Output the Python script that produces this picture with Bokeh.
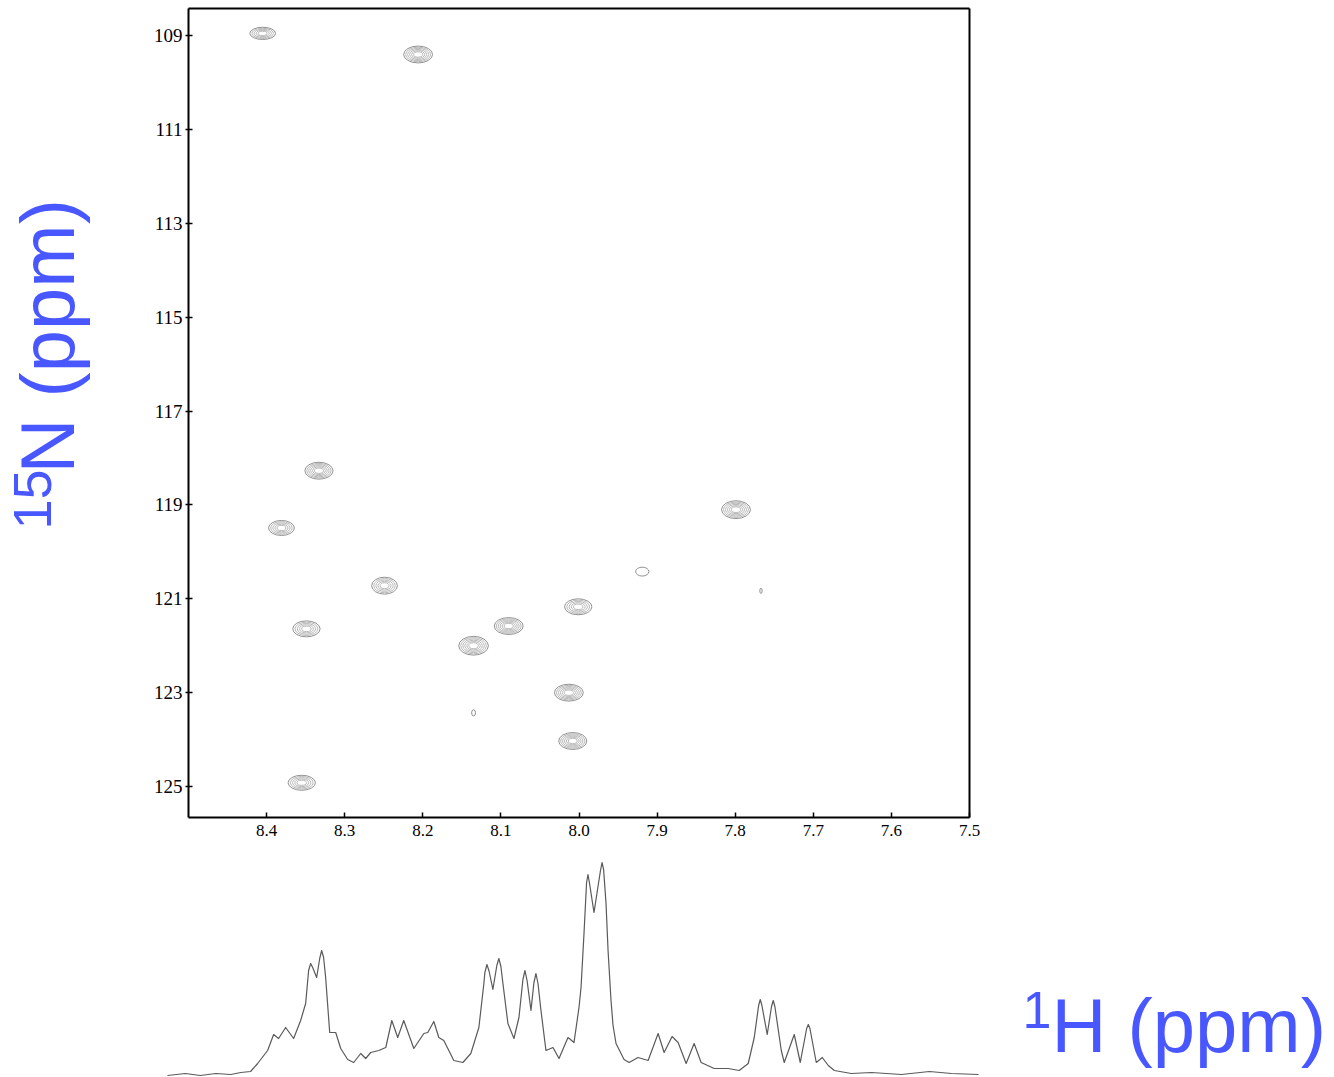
import math
from bokeh.plotting import figure
from bokeh.models import (Range1d, FixedTicker, PrintfTickFormatter, Label,
                          ColumnDataSource, LinearAxis)
from bokeh.embed import file_html
from bokeh.resources import INLINE

# ---- 2D 1H-15N HSQC peaks ----
peak_h = [8.405, 8.206, 8.333, 8.381, 7.799, 7.919, 8.249, 7.767,
          8.001, 8.349, 8.090, 8.135, 8.135, 8.013, 8.008, 8.355]
peak_n = [108.95, 109.40, 118.27, 119.49, 119.10, 120.42, 120.72, 120.83,
          121.17, 121.64, 121.58, 122.00, 123.43, 123.00, 124.03, 124.92]
peak_lw_h = [0.033, 0.037, 0.036, 0.033, 0.037, 0.017, 0.033, 0.003,
             0.035, 0.035, 0.037, 0.038, 0.005, 0.037, 0.036, 0.035]
peak_lw_n = [0.26, 0.36, 0.36, 0.32, 0.38, 0.19, 0.36, 0.11,
             0.34, 0.34, 0.36, 0.40, 0.13, 0.36, 0.36, 0.32]
peak_levels = [5, 6, 6, 5, 6, 1, 5, 1, 5, 5, 6, 6, 1, 6, 6, 5]

x_ticks = [8.4, 8.3, 8.2, 8.1, 8.0, 7.9, 7.8, 7.7, 7.6, 7.5]
y_ticks = [109, 111, 113, 115, 117, 119, 121, 123, 125]
h_limits = (7.5, 8.5)          # 1H window of the 2D box
n_limits = (108.42, 125.66)    # 15N window of the 2D box

# ---- 1D 1H projection spectrum (ppm, intensity) ----
spec_ppm = [8.527, 8.504, 8.485, 8.465, 8.446, 8.433, 8.4205, 8.4115, 8.3987, 8.391,
            8.3846, 8.3756, 8.3654, 8.3564, 8.350, 8.3462, 8.3436, 8.3410, 8.3359, 8.3320,
            8.3295, 8.3270, 8.3244, 8.3192, 8.3115, 8.3051, 8.2962, 8.2885, 8.2795, 8.2731,
            8.2667, 8.2564, 8.2474, 8.2397, 8.2321, 8.2244, 8.2115, 8.1987, 8.1936, 8.1859,
            8.1795, 8.1731, 8.1603, 8.1487, 8.1385, 8.1282, 8.1218, 8.1205, 8.1179, 8.1150,
            8.1103, 8.1052, 8.1026, 8.1000, 8.0974, 8.0910, 8.0833, 8.0769, 8.0718, 8.0692,
            8.0665, 8.0615, 8.0577, 8.0551, 8.0525, 8.0487, 8.0423, 8.0333, 8.0256, 8.0141,
            8.0064, 8.0000, 7.9974, 7.9936, 7.9903, 7.9885, 7.9865, 7.9808, 7.9725, 7.9705,
            7.9685, 7.9654, 7.9628, 7.9590, 7.9564, 7.9526, 7.9423, 7.9359, 7.9244, 7.9115,
            7.8987, 7.8910, 7.8808, 7.8731, 7.8628, 7.8526, 7.8436, 7.8269, 7.8090, 7.7949,
            7.7833, 7.7756, 7.7700, 7.7679, 7.7658, 7.7590, 7.7535, 7.7513, 7.7492, 7.7410,
            7.7372, 7.7244, 7.7167, 7.7085, 7.7064, 7.7043, 7.6962, 7.6885, 7.6808, 7.6731,
            7.6513, 7.6256, 7.5872, 7.5513, 7.5231, 7.4885]
spec_int = [0, 2, 0, 2, 1, 3, 4, 12, 25, 41,
            37, 48, 37, 55, 72, 105, 112, 108, 98, 117,
            125, 118, 98, 43, 43, 27, 16, 13, 22, 17,
            23, 25, 28, 55, 38, 55, 27, 42, 43, 54,
            38, 35, 15, 13, 22, 48, 92, 103, 111, 104,
            86, 110, 117, 109, 92, 52, 37, 58, 96, 105,
            95, 65, 93, 102, 92, 65, 25, 28, 17, 38,
            33, 68, 88, 142, 193, 201, 192, 163, 205, 213,
            206, 172, 125, 75, 50, 32, 16, 13, 18, 15,
            42, 23, 39, 33, 12, 32, 13, 7, 7, 5,
            12, 38, 70, 76, 70, 41, 69, 75, 69, 25,
            13, 41, 13, 47, 51, 47, 13, 18, 10, 5,
            2, 3, 1, 4, 2, 1]

BLUE = "#4857ff"
W, H = 1334, 1077

# ---- contour source: nested ellipses per peak ----
cx, cy, cw, ch, cc = [], [], [], [], []
for h, n, wh, wn, lv in zip(peak_h, peak_n, peak_lw_h, peak_lw_n, peak_levels):
    for k in range(lv):
        s = 1.0 - 0.82 * k / lv
        cx.append(h)
        cy.append(n)
        cw.append(wh * s)
        ch.append(wn * s)
        cc.append("#858585" if k == 0 else "#b0b0b0")
src = ColumnDataSource(dict(x=cx, y=cy, w=cw, h=ch, c=cc))

# Whole page is the plotting frame; the 2D box is drawn by fixed-location axes.
px_per_h = 969 - 188
px_per_n = (817 - 8) / (n_limits[1] - n_limits[0])
x_start = h_limits[1] + 188 / px_per_h
x_end = h_limits[1] - (W - 188) / px_per_h
y_top = n_limits[0] - 8 / px_per_n
y_bot = n_limits[0] + (H - 8) / px_per_n

p = figure(width=W, height=H, output_backend="svg", toolbar_location=None,
           x_range=Range1d(x_start, x_end), y_range=Range1d(y_bot, y_top),
           x_axis_location=None, y_axis_location=None,
           min_border_left=0, min_border_right=0, min_border_top=0, min_border_bottom=0)
p.grid.visible = False
p.outline_line_color = None
p.background_fill_color = "white"
p.border_fill_color = "white"

# 1D spectrum range: intensity 0 at page y=1075, 1 unit per pixel
p.extra_y_ranges = {"spec": Range1d(-(H - 1075), 1075)}

p.ellipse(x="x", y="y", width="w", height="h", source=src, fill_color=None,
          line_color="c", line_width=0.9)
p.line(spec_ppm, spec_int, y_range_name="spec", line_color="#5a5a5a", line_width=1.2,
       line_join="round")


def style(ax):
    ax.axis_line_width = 2
    ax.axis_line_color = "black"
    ax.major_tick_line_color = "black"
    ax.major_tick_line_width = 1.5
    ax.minor_tick_line_color = None
    ax.major_label_text_font = "Liberation Serif"
    ax.major_label_text_color = "black"


xb = LinearAxis(fixed_location=n_limits[1], bounds=h_limits,
                ticker=FixedTicker(ticks=x_ticks),
                formatter=PrintfTickFormatter(format="%.1f"))
style(xb)
xb.major_tick_in = 5
xb.major_tick_out = 0
xb.major_label_standoff = 7
xb.major_label_text_font_size = "17px"
p.add_layout(xb, "below")

yl = LinearAxis(fixed_location=h_limits[1], bounds=n_limits,
                ticker=FixedTicker(ticks=y_ticks))
style(yl)
yl.major_tick_in = 4
yl.major_tick_out = 3
yl.major_label_standoff = 3
yl.major_label_text_font_size = "19px"
p.add_layout(yl, "left")

# plain top / right edges of the box
xt = LinearAxis(fixed_location=n_limits[0], bounds=h_limits, ticker=FixedTicker(ticks=[]))
yr = LinearAxis(fixed_location=h_limits[0], bounds=n_limits, ticker=FixedTicker(ticks=[]))
for ax in (xt, yr):
    style(ax)
    ax.major_tick_in = 0
    ax.major_tick_out = 0
    ax.major_label_text_font_size = "0px"
p.add_layout(xt, "above")
p.add_layout(yr, "right")

# big blue axis titles (screen units: from frame bottom-left, y upward)
p.add_layout(Label(x=32, y=H - 529, x_units="screen", y_units="screen", text="15",
                   angle=math.pi / 2, text_font="Liberation Sans", text_font_size="54px",
                   text_color=BLUE, text_align="left", text_baseline="alphabetic"))
p.add_layout(Label(x=47, y=H - 473, x_units="screen", y_units="screen", text="N (ppm)",
                   angle=math.pi / 2, text_font="Liberation Sans", text_font_size="76px",
                   text_color=BLUE, text_align="left", text_baseline="alphabetic"))
p.add_layout(Label(x=1022, y=H - 1009, x_units="screen", y_units="screen", text="1",
                   text_font="Liberation Sans", text_font_size="52px",
                   text_color=BLUE, text_align="left", text_baseline="alphabetic"))
p.add_layout(Label(x=1051, y=H - 1025, x_units="screen", y_units="screen", text="H (ppm)",
                   text_font="Liberation Sans", text_font_size="76px",
                   text_color=BLUE, text_align="left", text_baseline="alphabetic"))

open("out.html", "w").write(file_html(p, INLINE))
